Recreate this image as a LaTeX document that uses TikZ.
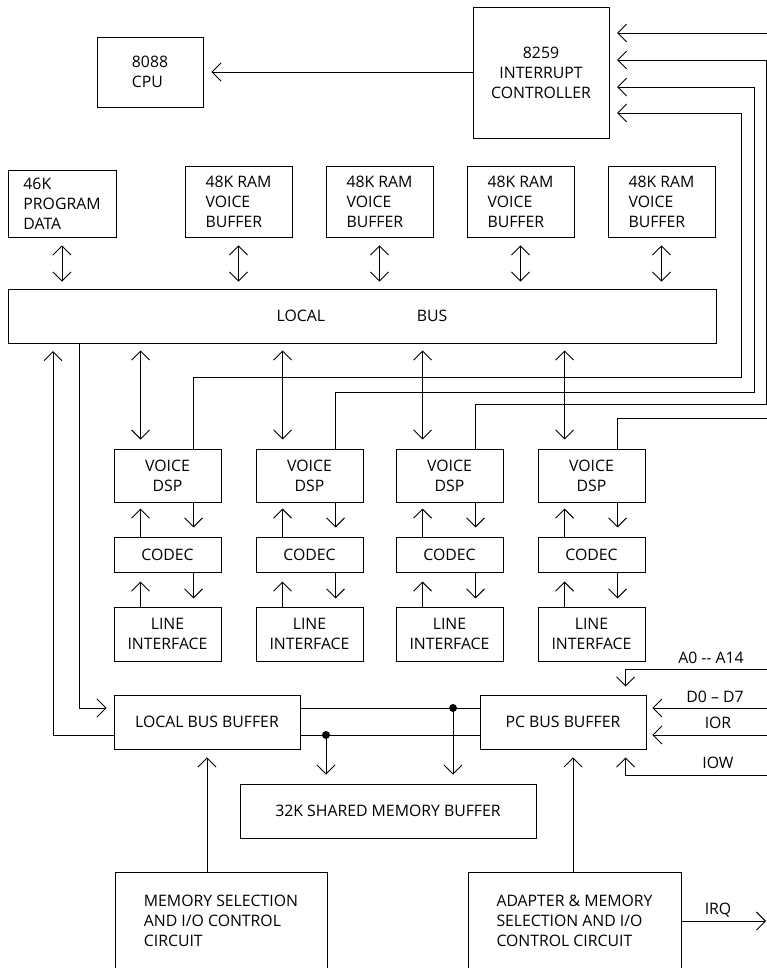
\documentclass[tikz,border=0pt]{standalone}
\usepackage{fontspec}
\setmainfont{Open Sans}
\usetikzlibrary{arrows.meta,calc}
\newcommand\dgfont{\fontsize{15.8}{20}\selectfont}
\begin{document}
\begin{tikzpicture}[x=1pt,y=-1pt,
  line width=0.9pt,
  >={Straight Barb[length=9pt,width=18pt]},
  box/.style={draw, inner sep=0pt, align=center, font=\dgfont},
  lbl/.style={font=\dgfont, inner sep=0pt},
  dot/.style={circle, fill, inner sep=0pt, minimum size=8pt}]
\useasboundingbox (0,0) rectangle (767,968);
\clip (0,0) rectangle (767,968);

% top row
\node[box, minimum width=106pt, minimum height=70pt, align=left] (cpu) at (150,72) {8088\\CPU};
\node[box, minimum width=136pt, minimum height=131pt] (pic) at (541,72.5) {8259\\INTERRUPT\\CONTROLLER};

% memories
\node[box, minimum width=108pt, minimum height=67pt, align=left] (prog) at (62,203.5) {46K\\PROGRAM\\DATA};
\foreach \i/\x in {1/238.5,2/379.5,3/520.5,4/661.5}{
  \node[box, minimum width=107pt, minimum height=71pt, align=left] (ram\i) at (\x,201.5) {48K RAM\\VOICE\\BUFFER};
}

% local bus
\node[box, minimum width=708pt, minimum height=54pt] (bus) at (362,316) {LOCAL\hspace{92pt}BUS};

% DSP columns
\foreach \i/\x in {1/167.5,2/309.5,3/449.5,4/591.5}{
  \node[box, minimum width=107pt, minimum height=53pt] (dsp\i) at (\x,475.5) {VOICE\\DSP};
  \node[box, minimum width=107pt, minimum height=35pt] (codec\i) at (\x,554.5) {CODEC};
  \node[box, minimum width=107pt, minimum height=54pt] (li\i) at (\x,634) {LINE\\INTERFACE};
}

% buffers
\node[box, minimum width=186pt, minimum height=54pt] (lbb) at (207,722) {LOCAL BUS BUFFER};
\node[box, minimum width=166pt, minimum height=54pt] (pcbb) at (563,722) {PC BUS BUFFER};
\node[box, minimum width=296pt, minimum height=54pt] (shm) at (388,811) {32K SHARED MEMORY BUFFER};
\node[box, minimum width=212pt, minimum height=98pt, align=left] (msel) at (221,921) {MEMORY SELECTION\\AND I/O CONTROL\\CIRCUIT};
\node[box, minimum width=213pt, minimum height=98pt, align=left] (adap) at (574.5,921) {ADAPTER \& MEMORY\\SELECTION AND I/O\\CONTROL CIRCUIT};

% CPU <- 8259
\draw[->] (pic.west |- cpu.east) -- ($(cpu.east)+(8,0)$);

% memories <-> bus
\foreach \n in {prog,ram1,ram2,ram3,ram4}{
  \draw[<->] ($(\n.south)+(0,8)$) -- ($(\n.south |- bus.north)+(0,-7)$);
}

% bus <-> DSP, DSP/codec/line arrows
\foreach \i in {1,2,3,4}{
  \draw[<->] ($(bus.south -| dsp\i.north west)+(27,7)$) -- ($(dsp\i.north west)+(27,-9)$);
  \draw[->] ($(dsp\i.south west)+(80,0)$) -- +(0,25);
  \draw[->] ($(codec\i.north west)+(27,0)$) -- +(0,-28);
  \draw[->] ($(codec\i.south west)+(80,0)$) -- +(0,26);
  \draw[->] ($(li\i.north west)+(27,0)$) -- +(0,-25);
}

% interrupt lines
\coordinate (b1) at (741,377);
\coordinate (b2) at (754,392);
\coordinate (b3) at (766,404);
\coordinate (b4) at (790,418);
\coordinate (t1) at (617,113);
\coordinate (t2) at (617,87);
\coordinate (t3) at (617,60);
\coordinate (t4) at (617,33);
\foreach \i in {1,2,3,4}{
  \draw[->] ($(dsp\i.north west)+(80,0)$) |- (b\i) |- (t\i);
}

% local bus <-> local bus buffer
\coordinate (xl) at (79,0);
\coordinate (busin) at (53,351);
\draw[->] ($(lbb.west)+(0,13)$) -| (busin);
\draw[->] (xl |- bus.south) |- ($(lbb.west)+(-7,-14)$);

% buffer links
\draw ($(lbb.east)+(0,-14)$) -- ($(pcbb.west)+(0,-14)$);
\draw ($(lbb.east)+(0,13)$) -- ($(pcbb.west)+(0,13)$);
\node[dot] (d1) at (453,708) {};
\node[dot] (d2) at (326,735) {};
\draw[->] (d1.center) -- ($(d1 |- shm.north)+(0,-9)$);
\draw[->] (d2.center) -- ($(d2 |- shm.north)+(0,-9)$);

% control circuits up
\coordinate (xa) at (573,0);
\draw[->] (lbb.south |- msel.north) -- ($(lbb.south)+(0,8)$);
\draw[->] (xa |- adap.north) -- ($(xa |- pcbb.south)+(0,8)$);

% PC side signals
\coordinate (ea) at (770,669);
\coordinate (ed) at (770,708);
\coordinate (er) at (770,735);
\coordinate (ew) at (770,775);
\coordinate (eq) at (766,921);
\draw[->] (ea) -| ($(pcbb.north west)+(146,-8)$);
\draw[->] (ed) -- ($(pcbb.east)+(6,-14)$);
\draw[->] (er) -- ($(pcbb.east)+(6,13)$);
\draw[->] (ew) -| ($(pcbb.south west)+(146,8)$);
\draw[->] (adap.east) -- (eq);

\node[lbl] (la) at (711,658) {A0 -{}- A14};
\node[lbl] (ld) at (715,697) {D0 -- D7};
\node[lbl] (lr) at (718,723) {IOR};
\node[lbl] (lw) at (718,763) {IOW};
\node[lbl] (lq) at (718,910) {IRQ};
\end{tikzpicture}
\end{document}
